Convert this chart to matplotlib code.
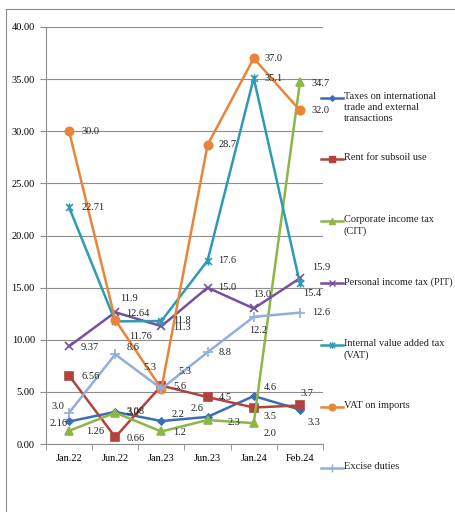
import numpy as np
import matplotlib
matplotlib.use("Agg")
import matplotlib.pyplot as plt
from matplotlib.path import Path
from matplotlib.lines import Line2D

plt.rcParams['font.family'] = ['Liberation Serif', 'DejaVu Serif']
FS = 7.5

# data
months = ["Jan.22", "Jun.22", "Jan.23", "Jun.23", "Jan.24", "Feb.24"]

trade = [2.16, 3.08, 2.2, 2.6, 4.6, 3.3]
subsoil = [6.56, 0.66, 5.6, 4.5, 3.5, 3.7]
cit = [1.26, 3.0, 1.2, 2.3, 2.0, 34.7]
pit = [9.37, 12.64, 11.3, 15.0, 13.0, 15.9]
vat_internal = [22.71, 11.76, 11.8, 17.6, 35.1, 15.4]
vat_imports = [30.0, 11.9, 5.3, 28.7, 37.0, 32.0]
excise = [3.0, 8.6, 5.3, 8.8, 12.2, 12.6]

trade_lbl = ["2.16", "3.08", "2.2", "2.6", "4.6", "3.3"]
subsoil_lbl = ["6.56", "0.66", "5.6", "4.5", "3.5", "3.7"]
cit_lbl = ["1.26", "3.0", "1.2", "2.3", "2.0", "34.7"]
pit_lbl = ["9.37", "12.64", "11.3", "15.0", "13.0", "15.9"]
vat_internal_lbl = ["22.71", "11.76", "11.8", "17.6", "35.1", "15.4"]
vat_imports_lbl = ["30.0", "11.9", "5.3", "28.7", "37.0", "32.0"]
excise_lbl = ["3.0", "8.6", "5.3", "8.8", "12.2", "12.6"]

names = ["Taxes on international\ntrade and external\ntransactions",
         "Rent for subsoil use",
         "Corporate income tax\n(CIT)",
         "Personal income tax (PIT)",
         "Internal value added tax\n(VAT)",
         "VAT on imports",
         "Excise duties"]

# label offsets in pixels (dx to left edge of text, dy up)
trade_off = [(-20, -2), (11, 0), (10, 7), (-17, 8), (10, 9), (8, -13)]
subsoil_off = [(12, -1), (11, -1), (12, -1), (11, 0), (10, -9), (1, 12)]
cit_off = [(17, -1), (11, 0), (12, -1), (20, -2), (10, -10), (12, -1)]
pit_off = [(12, -1), (11, -1), (12, -1), (11, 0), (-1, 14), (12, 11)]
vat_internal_off = [(12, 0), (14, -15), (12, 0), (11, 0), (11, 0), (3, -10)]
vat_imports_off = [(12, 0), (5, 21), (-18, 21), (11, 0), (11, 0), (12, 0)]
excise_off = [(-18, 6), (11, 7), (17, 17), (11, 0), (-5, -14), (12, 0)]

star = Path([(-1, -1), (1, 1), (-1, 1), (1, -1), (0, 1.2), (0, -1.2)],
            [Path.MOVETO, Path.LINETO, Path.MOVETO, Path.LINETO,
             Path.MOVETO, Path.LINETO])

series = [
    (trade, trade_lbl, trade_off, "#3B6DB4", "D", 3.5),
    (subsoil, subsoil_lbl, subsoil_off, "#B3413E", "s", 5.5),
    (cit, cit_lbl, cit_off, "#8CB646", "^", 5.5),
    (pit, pit_lbl, pit_off, "#7650A0", "x", 6),
    (vat_internal, vat_internal_lbl, vat_internal_off, "#2E9BB5", star, 6),
    (vat_imports, vat_imports_lbl, vat_imports_off, "#E9853B", "o", 6),
    (excise, excise_lbl, excise_off, "#94AEDA", "+", 7),
]

fig = plt.figure(figsize=(4.56, 5.12), dpi=100)
ax = fig.add_axes([46/456, 1 - 444/512, 277/456, 417/512])

x = np.arange(len(months))
for vals, lbls, offs, col, mk, ms in series:
    ax.plot(x, vals, color=col, lw=1.8, marker=mk, markersize=ms,
            markeredgewidth=1.2, markerfacecolor=col, markeredgecolor=col,
            zorder=3)
    for xi, v, t, (dx, dy) in zip(x, vals, lbls, offs):
        ax.annotate(t, (xi, v), xytext=(dx, dy), textcoords="offset pixels",
                    ha="left", va="center", fontsize=FS, color="#222222",
                    zorder=4)

ax.set_xlim(-0.5, 5.5)
ax.set_ylim(0, 40)
ax.set_yticks(np.arange(0, 41, 5))
ax.set_yticklabels([f"{v:.2f}" for v in np.arange(0, 41, 5)], fontsize=FS)
ax.set_xticks(x)
ax.set_xticklabels(months, fontsize=FS)
ax.set_xticks(np.arange(-0.5, 6, 1), minor=True)
ax.tick_params(axis="x", which="major", length=0, pad=7)
ax.tick_params(axis="x", which="minor", length=4, color="#8C8C8C",
               direction="out")
ax.tick_params(axis="y", length=4, color="#8C8C8C", pad=4)
ax.grid(axis="y", color="#8C8C8C", lw=0.8)
ax.set_axisbelow(True)
for s in ["top", "right"]:
    ax.spines[s].set_visible(False)
for s in ["left", "bottom"]:
    ax.spines[s].set_color("#8C8C8C")
    ax.spines[s].set_linewidth(0.8)

# legend drawn by hand, evenly spaced entries
leg_y = [98, 159, 221, 283, 345, 407, 468]
for (vals, lbls, offs, col, mk, ms), nm, yy in zip(series, names, leg_y):
    fy = 1 - yy / 512
    fig.add_artist(Line2D([321/456, 343/456], [fy, fy], color=col, lw=1.8,
                          transform=fig.transFigure))
    fig.add_artist(Line2D([332/456], [fy], color=col, marker=mk,
                          markersize=ms * 0.8, markerfacecolor=col,
                          markeredgecolor=col, markeredgewidth=1.0,
                          transform=fig.transFigure))
    fig.text(344/456, 1 - (yy - 6) / 512, nm, ha="left", va="top",
             fontsize=FS, linespacing=1.3, color="#222222")

# outer frame (left and top edges)
fig.add_artist(Line2D([6/456, 6/456], [0, 1 - 9/512], color="#8C8C8C",
                      lw=0.8, transform=fig.transFigure))
fig.add_artist(Line2D([6/456, 1], [1 - 9/512, 1 - 9/512], color="#8C8C8C",
                      lw=0.8, transform=fig.transFigure))

fig.savefig("out.png", dpi=100)
